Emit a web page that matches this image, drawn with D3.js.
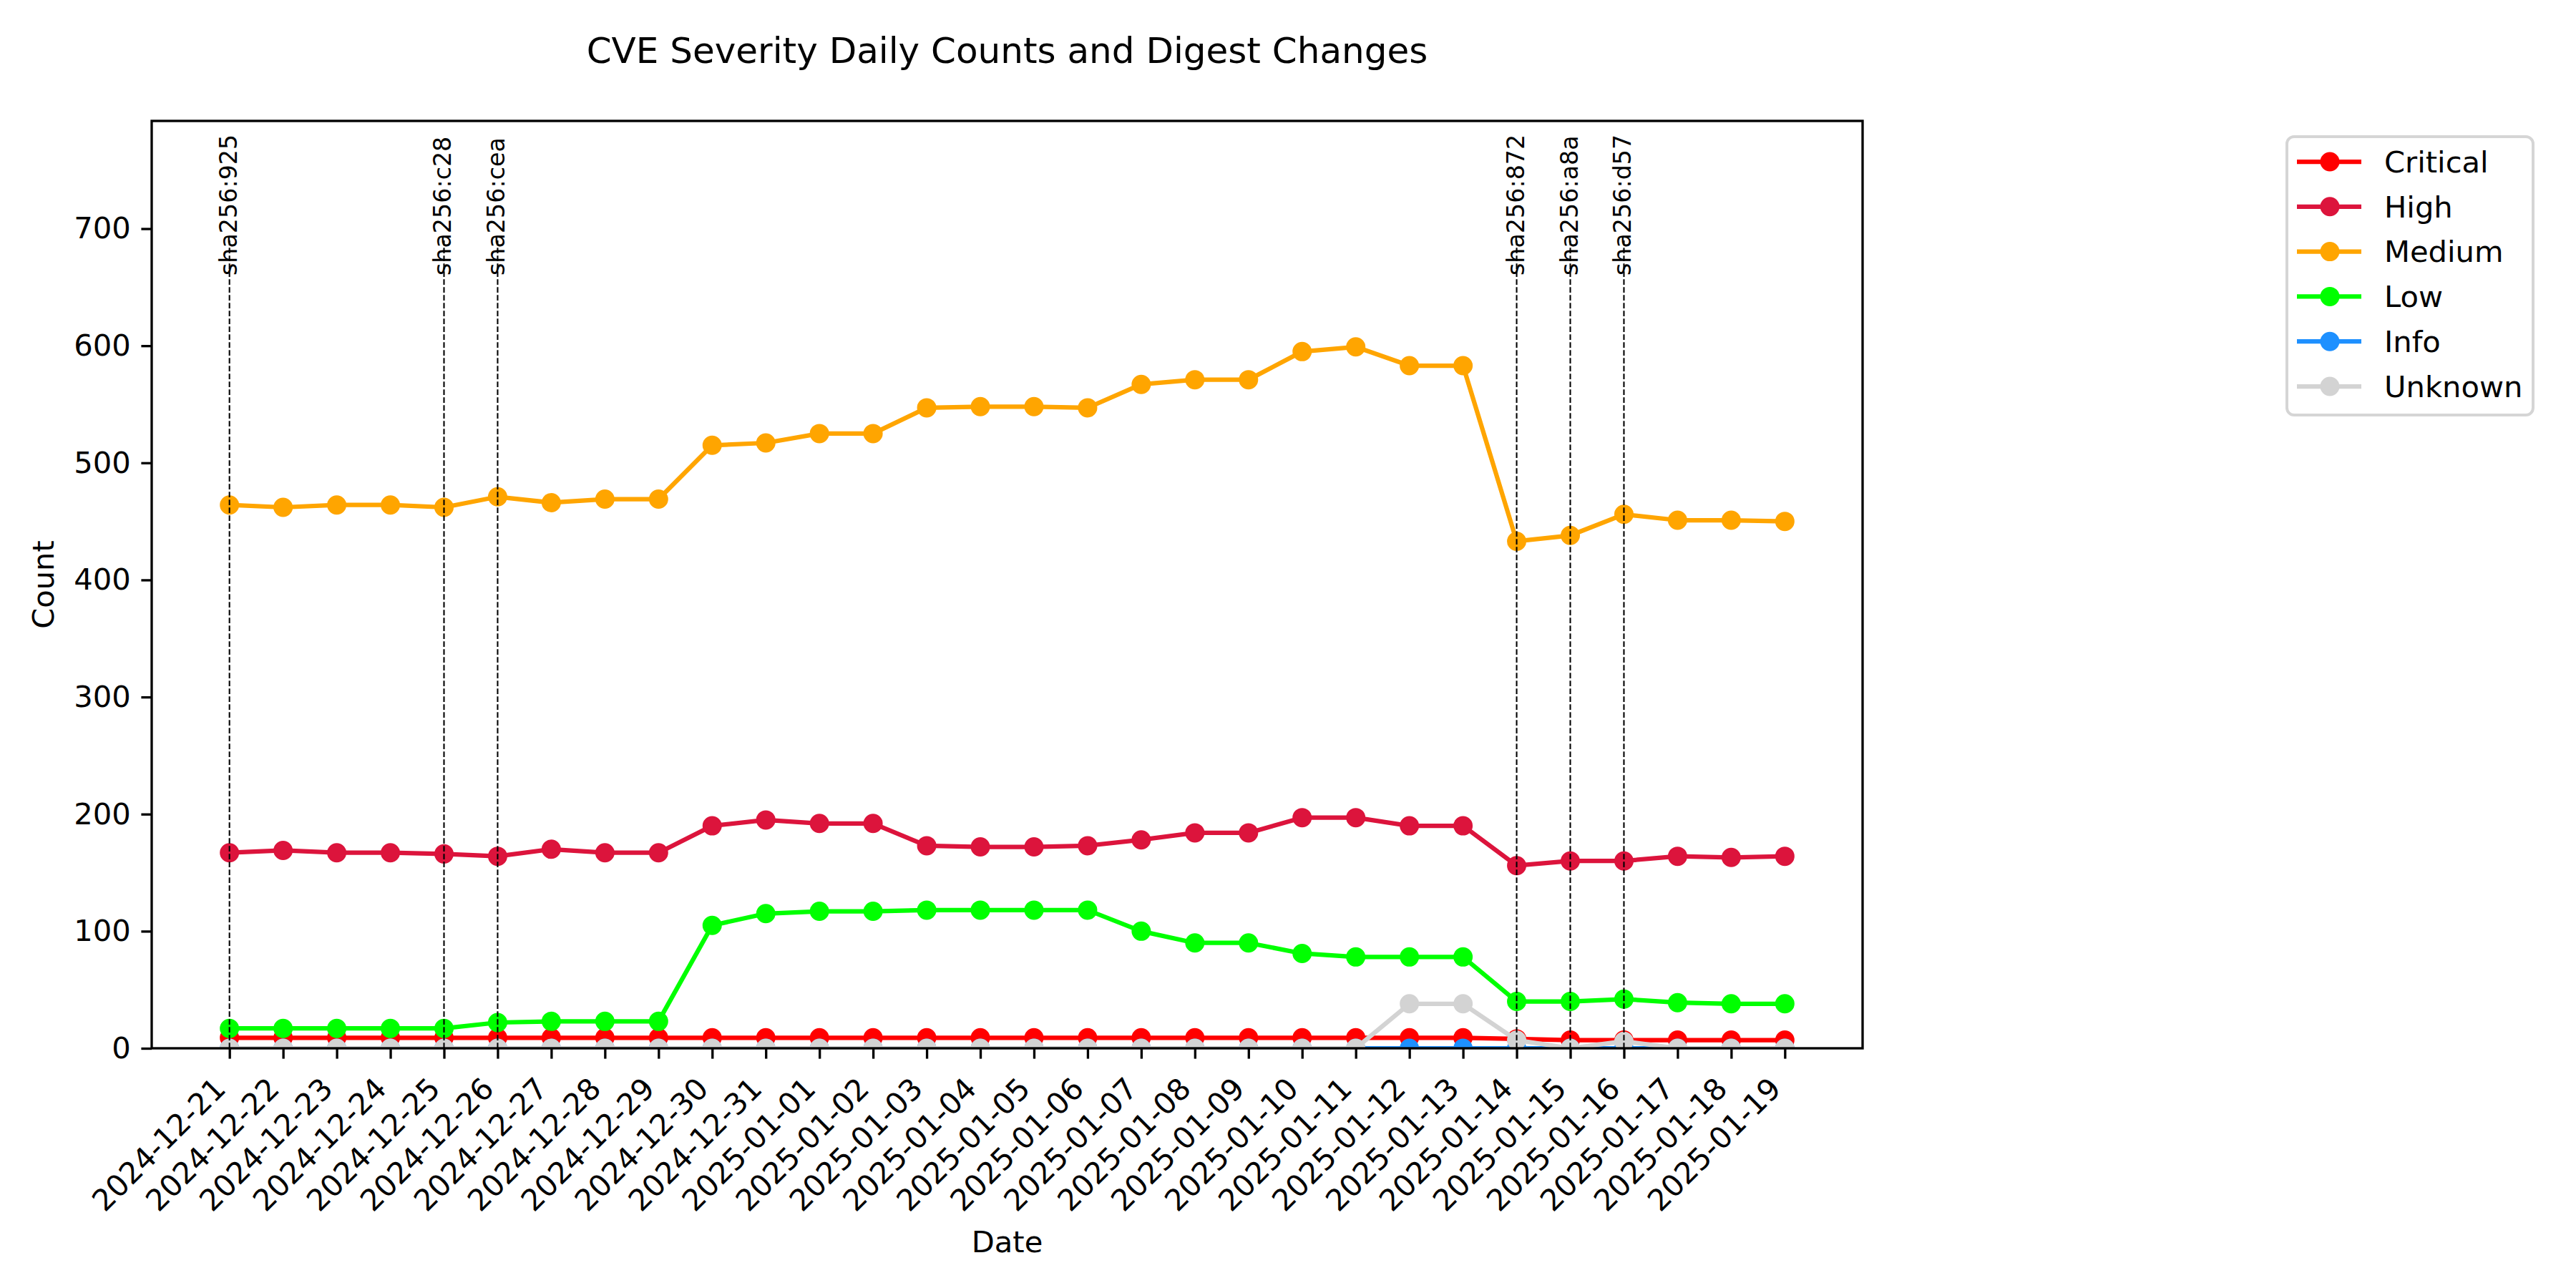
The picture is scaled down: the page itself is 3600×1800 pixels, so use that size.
<!DOCTYPE html>
<html><head><meta charset="utf-8">
<script src="https://cdn.jsdelivr.net/npm/d3@7"></script>
<style>body{margin:0;background:#fff} svg{display:block} text{font-family:"DejaVu Sans",sans-serif}</style>
</head><body>
<svg id="chart" width="3600" height="1800"></svg>
<script>
const dates = ["2024-12-21","2024-12-22","2024-12-23","2024-12-24","2024-12-25","2024-12-26","2024-12-27","2024-12-28","2024-12-29","2024-12-30","2024-12-31",
  "2025-01-01","2025-01-02","2025-01-03","2025-01-04","2025-01-05","2025-01-06","2025-01-07","2025-01-08","2025-01-09","2025-01-10",
  "2025-01-11","2025-01-12","2025-01-13","2025-01-14","2025-01-15","2025-01-16","2025-01-17","2025-01-18","2025-01-19"];
const critical = [9,9,9,9,9,9,9,9,9,9,9,9,9,9,9,9,9,9,9,9,9,9,9,9,8,7,7,7,7,7];
const high     = [167,169,167,167,166,164,170,167,167,190,195,192,192,173,172,172,173,178,184,184,197,197,190,190,156,160,160,164,163,164];
const medium   = [464,462,464,464,462,471,466,469,469,515,517,525,525,547,548,548,547,567,571,571,595,599,583,583,433,438,456,451,451,450];
const low      = [17,17,17,17,17,22,23,23,23,105,115,117,117,118,118,118,118,100,90,90,81,78,78,78,40,40,42,39,38,38];
const info     = [0,0,0,0,0,0,0,0,0,0,0,0,0,0,0,0,0,0,0,0,0,0,0,0,0,0,0,0,0,0];
const unknown  = [0,0,0,0,0,0,0,0,0,0,0,0,0,0,0,0,0,0,0,0,0,0,38,38,7,0,6,0,0,0];
const seriesNames = ["Critical","High","Medium","Low","Info","Unknown"];
const seriesColors = ["#ff0000","#dc143c","#ffa500","#00ff00","#1e90ff","#d3d3d3"];
const digestDates = ["2024-12-21","2024-12-25","2024-12-26","2025-01-14","2025-01-15","2025-01-16"];
const digestLabels = ["sha256:925","sha256:c28","sha256:cea","sha256:872","sha256:a8a","sha256:d57"];
const yTicks = [0,100,200,300,400,500,600,700];

const seriesValues = [critical, high, medium, low, info, unknown];
const L = 212, R = 2603, T = 169, B = 1465;
const fs = 41.67;
const svg = d3.select("#chart");
const x = d3.scaleLinear().domain([-1.45, dates.length - 1 + 1.45]).range([L, R]);
const y = d3.scaleLinear().domain([0, 792]).range([B, T]);

svg.append("defs").append("clipPath").attr("id","clip")
  .append("rect").attr("x",L).attr("y",T).attr("width",R-L).attr("height",B-T);

// series
const plot = svg.append("g").attr("clip-path","url(#clip)");
const line = d3.line().x((d,i)=>x(i)).y(d=>y(d));
seriesValues.forEach((vals, k) => {
  const g = plot.append("g");
  g.append("path").attr("d", line(vals)).attr("fill","none")
    .attr("stroke", seriesColors[k]).attr("stroke-width",6.25)
    .attr("stroke-linejoin","round");
  g.selectAll("circle").data(vals).join("circle")
    .attr("cx",(d,i)=>x(i)).attr("cy",d=>y(d)).attr("r",12.5)
    .attr("fill",seriesColors[k]).attr("stroke",seriesColors[k]).attr("stroke-width",2);
});

// digest lines + labels
digestDates.forEach((dt, j) => {
  const xi = x(dates.indexOf(dt));
  svg.append("line").attr("x1",xi).attr("x2",xi).attr("y1",y(0)).attr("y2",y(690))
    .attr("stroke","#000").attr("stroke-width",2.08).attr("stroke-dasharray","7.7,3.3");
  svg.append("text").attr("transform",`translate(${xi+10},${y(660)}) rotate(-90)`)
    .attr("text-anchor","start").attr("font-size",33.3).attr("fill","#000")
    .text(digestLabels[j]);
});

// axes
const xAxis = svg.append("g").attr("transform",`translate(0,${B})`)
  .call(d3.axisBottom(x).tickValues(d3.range(dates.length)).tickFormat(i=>dates[i]).tickSize(14.6).tickSizeOuter(0));
xAxis.select(".domain").remove();
xAxis.selectAll(".tick line").attr("stroke","#000").attr("stroke-width",3.33);
xAxis.selectAll(".tick text").attr("x",0).attr("y",0).attr("dy",null)
  .attr("text-anchor","end").attr("transform","translate(-3.5,59) rotate(-45)")
  .attr("font-size",fs).attr("font-family","DejaVu Sans").attr("fill","#000");

const yAxis = svg.append("g").attr("transform",`translate(${L},0)`)
  .call(d3.axisLeft(y).tickValues(yTicks).tickSize(14.6).tickPadding(14.6).tickSizeOuter(0));
yAxis.select(".domain").remove();
yAxis.selectAll(".tick line").attr("stroke","#000").attr("stroke-width",3.33);
yAxis.selectAll(".tick text").attr("font-size",fs).attr("font-family","DejaVu Sans").attr("fill","#000");

// spines
svg.append("rect").attr("x",L).attr("y",T).attr("width",R-L).attr("height",B-T)
  .attr("fill","none").attr("stroke","#000").attr("stroke-width",3.33);

// title & labels
svg.append("text").attr("x",(L+R)/2).attr("y",88).attr("text-anchor","middle")
  .attr("font-size",50).text("CVE Severity Daily Counts and Digest Changes");
svg.append("text").attr("x",(L+R)/2).attr("y",1750).attr("text-anchor","middle")
  .attr("font-size",fs).text("Date");
svg.append("text").attr("transform",`translate(75,${(T+B)/2}) rotate(-90)`).attr("text-anchor","middle")
  .attr("font-size",fs).text("Count");

// legend
const lg = svg.append("g");
lg.append("rect").attr("x",3196).attr("y",191).attr("width",344).attr("height",389)
  .attr("rx",10).attr("fill","#fff").attr("stroke","#d5d5d5").attr("stroke-width",4);
seriesNames.forEach((n,k)=>{
  const cy = 226 + k*62.8;
  lg.append("line").attr("x1",3210).attr("x2",3300).attr("y1",cy).attr("y2",cy)
    .attr("stroke",seriesColors[k]).attr("stroke-width",6.25);
  lg.append("circle").attr("cx",3256).attr("cy",cy).attr("r",12.5)
    .attr("fill",seriesColors[k]).attr("stroke",seriesColors[k]).attr("stroke-width",2);
  lg.append("text").attr("x",3332).attr("y",cy+14.7).attr("font-size",fs).text(n);
});
</script>
</body></html>
